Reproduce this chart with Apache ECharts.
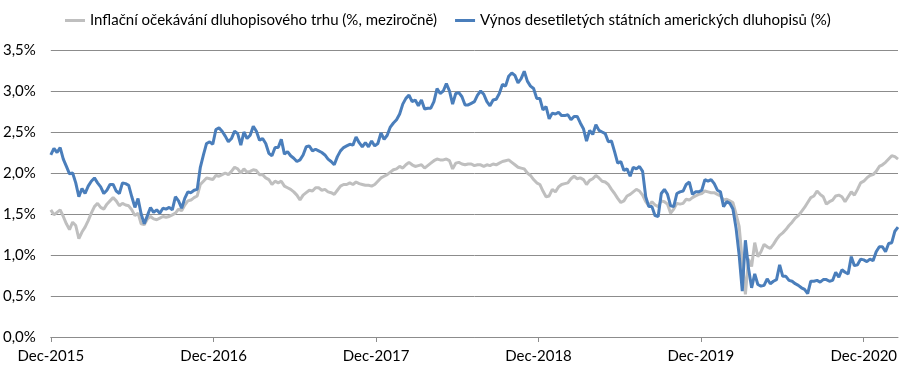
<!DOCTYPE html>
<html>
<head>
<meta charset="utf-8">
<script src="https://cdn.jsdelivr.net/npm/echarts@6/dist/echarts.min.js"></script>
<style>html,body{margin:0;padding:0;background:#fff}#c{width:904px;height:380px}</style>
</head>
<body>
<div id="c"></div>
<script>
// Weekly observations starting 2015-12-09 (7-day step)
const startDate = '2015-12-09';
const stepDays = 7;

const seriesNames = ['Inflační očekávání dluhopisového trhu (%, meziročně)', 'Výnos desetiletých státních amerických dluhopisů (%)'];

// 10Y breakeven inflation (%), grey
const breakeven = [
1.55,1.49,1.52,1.55,1.47,1.38,1.31,1.40,1.36,1.20,1.28,1.34,1.42,1.51,1.59,1.63,1.58,1.56,1.62,1.66,
1.70,1.66,1.60,1.63,1.61,1.60,1.55,1.48,1.51,1.38,1.37,1.44,1.47,1.44,1.43,1.45,1.47,1.46,1.47,1.49,
1.51,1.56,1.54,1.61,1.66,1.67,1.70,1.72,1.86,1.90,1.94,1.93,1.92,1.97,1.96,1.98,2.00,1.98,2.02,2.07,
2.05,2.00,2.05,2.01,2.02,2.04,2.03,1.98,1.98,1.94,1.92,1.86,1.90,1.88,1.90,1.84,1.82,1.80,1.77,1.73,
1.67,1.73,1.76,1.79,1.78,1.82,1.82,1.79,1.80,1.77,1.76,1.74,1.79,1.84,1.86,1.86,1.88,1.86,1.89,1.87,
1.86,1.85,1.85,1.84,1.86,1.90,1.94,1.96,1.98,2.01,2.04,2.05,2.08,2.06,2.10,2.13,2.10,2.08,2.09,2.10,
2.06,2.09,2.12,2.15,2.17,2.16,2.16,2.17,2.15,2.05,2.12,2.13,2.11,2.10,2.11,2.11,2.09,2.10,2.10,2.08,
2.10,2.09,2.11,2.10,2.12,2.14,2.15,2.16,2.13,2.10,2.07,2.06,2.05,2.00,1.97,1.92,1.88,1.86,1.78,1.71,
1.72,1.80,1.77,1.83,1.86,1.87,1.88,1.93,1.96,1.93,1.94,1.92,1.86,1.91,1.93,1.97,1.94,1.90,1.89,1.86,
1.80,1.75,1.69,1.64,1.66,1.72,1.74,1.77,1.80,1.78,1.73,1.65,1.60,1.65,1.61,1.59,1.66,1.65,1.62,1.51,
1.56,1.63,1.62,1.63,1.68,1.67,1.70,1.72,1.74,1.75,1.78,1.77,1.76,1.76,1.74,1.72,1.67,1.68,1.66,1.64,
1.50,1.35,0.93,0.52,0.95,0.86,1.15,0.98,1.04,1.13,1.10,1.08,1.13,1.19,1.24,1.27,1.31,1.36,1.40,1.45,
1.48,1.53,1.58,1.64,1.70,1.72,1.78,1.74,1.71,1.62,1.65,1.67,1.72,1.73,1.71,1.65,1.71,1.77,1.73,1.80,
1.88,1.90,1.94,1.97,1.98,2.02,2.08,2.10,2.13,2.17,2.21,2.20,2.17
];

// 10Y US Treasury yield (%), blue
const treasury10y = [
2.22,2.30,2.25,2.31,2.17,2.08,1.99,2.00,1.88,1.71,1.81,1.75,1.84,1.90,1.94,1.88,1.83,1.75,1.79,1.86,
1.86,1.78,1.75,1.88,1.87,1.85,1.71,1.58,1.69,1.50,1.38,1.48,1.58,1.52,1.55,1.51,1.57,1.56,1.58,1.55,
1.71,1.66,1.57,1.69,1.77,1.76,1.79,1.80,2.07,2.22,2.36,2.38,2.35,2.53,2.55,2.51,2.45,2.38,2.42,2.51,
2.48,2.34,2.50,2.42,2.46,2.57,2.51,2.40,2.42,2.36,2.24,2.21,2.31,2.31,2.41,2.23,2.26,2.21,2.18,2.14,
2.16,2.22,2.32,2.33,2.27,2.29,2.27,2.25,2.22,2.17,2.14,2.10,2.20,2.27,2.31,2.33,2.35,2.34,2.44,2.37,
2.32,2.37,2.32,2.39,2.33,2.36,2.49,2.41,2.46,2.56,2.61,2.65,2.72,2.84,2.91,2.95,2.87,2.89,2.82,2.89,
2.78,2.79,2.79,2.87,3.03,2.97,3.00,3.09,3.00,2.84,2.97,2.98,2.93,2.83,2.83,2.85,2.87,2.95,3.00,2.96,
2.87,2.82,2.89,2.90,2.97,3.08,3.06,3.18,3.22,3.19,3.10,3.15,3.24,3.12,3.06,3.03,2.91,2.91,2.77,2.81,
2.66,2.73,2.72,2.74,2.70,2.70,2.71,2.65,2.69,2.69,2.61,2.54,2.39,2.52,2.47,2.59,2.52,2.50,2.48,2.38,
2.39,2.26,2.12,2.14,2.03,2.05,1.96,2.07,2.05,2.08,2.02,1.71,1.59,1.59,1.48,1.47,1.75,1.80,1.74,1.60,
1.59,1.75,1.77,1.78,1.86,1.89,1.74,1.77,1.77,1.79,1.92,1.90,1.92,1.87,1.79,1.77,1.59,1.65,1.63,1.56,
1.33,1.00,0.56,1.18,0.84,0.60,0.77,0.64,0.62,0.63,0.71,0.65,0.68,0.70,0.88,0.74,0.74,0.69,0.68,0.65,
0.63,0.60,0.58,0.53,0.68,0.68,0.69,0.67,0.70,0.70,0.68,0.69,0.79,0.73,0.82,0.79,0.77,0.98,0.87,0.88,
0.95,0.94,0.92,0.95,0.93,1.04,1.10,1.10,1.04,1.14,1.15,1.29,1.34
];

// X-axis ticks
const tickDates = ['2015-12-09','2016-12-09','2017-12-09','2018-12-09','2019-12-09','2020-12-09'];
const tickLabels = ['Dec-2015','Dec-2016','Dec-2017','Dec-2018','Dec-2019','Dec-2020'];

const DAY = 86400000;
function toUTC(s){ const p = s.split('-').map(Number); return Date.UTC(p[0], p[1]-1, p[2]); }
const t0 = toUTC(startDate);
// x position = days since start
const dayIdx = treasury10y.map((_, i) => i * stepDays);
const tickDays = tickDates.map(s => Math.round((toUTC(s) - t0) / DAY));

const FONT = 'Lato, "Open Sans", sans-serif';
const GRID_COLOR = '#8c8c8c';

const chart = echarts.init(document.getElementById('c'), null, {renderer: 'canvas'});
chart.setOption({
  animation: false,
  backgroundColor: '#ffffff',
  color: ['#bfbfbf', '#4a7ebb'],
  legend: {
    left: 60, top: 8,
    icon: 'rect', itemWidth: 20, itemHeight: 3, itemGap: 18,
    textStyle: {fontFamily: FONT, fontSize: 15, color: '#000'},
    data: seriesNames
  },
  grid: {left: 50, right: 6, top: 50, bottom: 43},
  xAxis: {
    type: 'value',
    min: 0, max: dayIdx[dayIdx.length - 1],
    axisLine: {show: true, onZero: false, lineStyle: {color: GRID_COLOR, width: 1}},
    axisTick: {show: true, length: 5, customValues: tickDays, lineStyle: {color: GRID_COLOR}},
    axisLabel: {
      customValues: tickDays, margin: 12, color: '#000', fontFamily: FONT, fontSize: 15,
      hideOverlap: false,
      formatter: function (v) {
        let best = 0, bd = Infinity;
        tickDays.forEach((t, i) => { const d = Math.abs(t - v); if (d < bd) { bd = d; best = i; } });
        return tickLabels[best];
      }
    },
    splitLine: {show: false}
  },
  yAxis: {
    type: 'value', min: 0, max: 3.5, interval: 0.5,
    axisLine: {show: false}, axisTick: {show: false},
    axisLabel: {
      margin: 15, color: '#000', fontFamily: FONT, fontSize: 15,
      formatter: v => v.toFixed(1).replace('.', ',') + '%'
    },
    splitLine: {lineStyle: {color: GRID_COLOR, width: 1}}
  },
  series: [
    {
      name: seriesNames[0], type: 'line', symbol: 'none',
      lineStyle: {width: 3, color: '#bfbfbf'},
      data: dayIdx.map((d, i) => [d, breakeven[i]])
    },
    {
      name: seriesNames[1], type: 'line', symbol: 'none',
      lineStyle: {width: 3, color: '#4a7ebb'},
      data: dayIdx.map((d, i) => [d, treasury10y[i]])
    }
  ]
});
</script>
</body>
</html>
